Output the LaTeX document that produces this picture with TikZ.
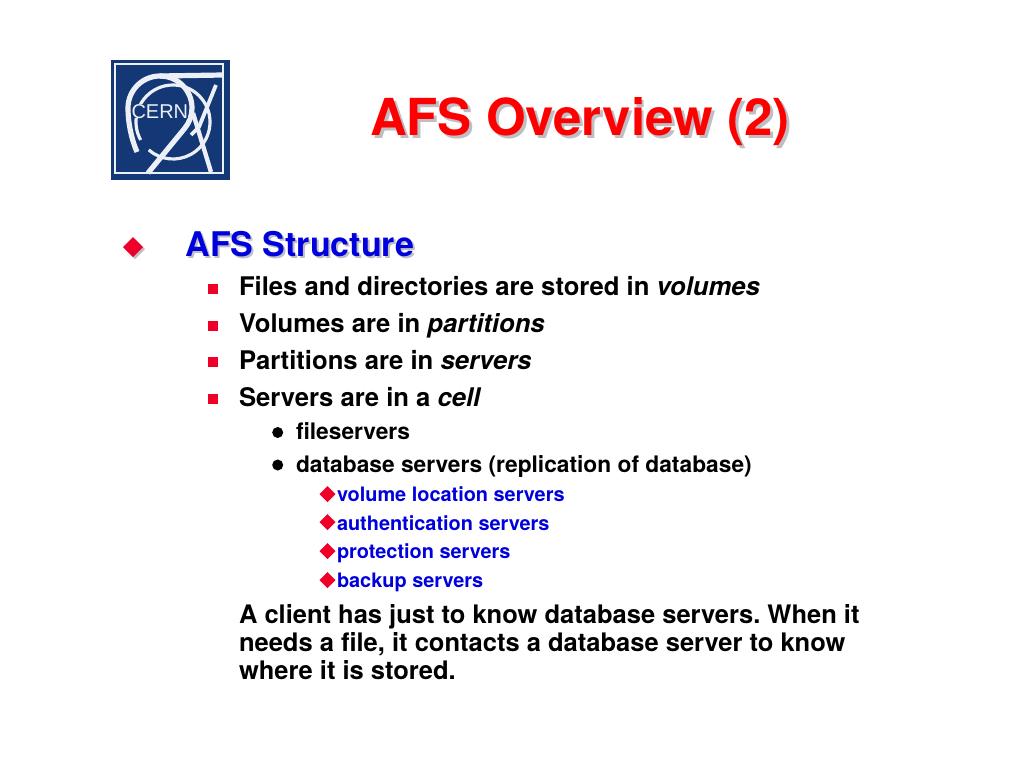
\documentclass[tikz,border=0pt]{standalone}
\usepackage{fontspec}
\setmainfont{TeX Gyre Heros}
\newfontfamily\logofont{Liberation Sans}
\definecolor{slidered}{RGB}{240,0,40}
\definecolor{titlered}{RGB}{255,0,0}
\definecolor{slideblue}{RGB}{0,0,220}
\definecolor{shadowgray}{RGB}{190,190,196}
\definecolor{logoblue}{RGB}{20,55,118}
\definecolor{logoline}{RGB}{236,240,246}
\newcommand{\shadowed}[3]{\leavevmode\rlap{\kern#1\raisebox{-#1}{\textcolor{shadowgray}{#3}}}\textcolor{#2}{#3}}
\frenchspacing
\tikzset{
  x=1pt,y=-1pt,
  every node/.style={inner sep=0pt,outer sep=0pt,anchor=base west},
  titletext/.style={font=\fontsize{51}{56}\selectfont\bfseries},
  headtext/.style={font=\fontsize{34}{38}\selectfont\bfseries},
  leveltwo/.style={font=\fontsize{25.65}{28}\selectfont\bfseries},
  levelthree/.style={font=\fontsize{22.75}{26}\selectfont\bfseries},
  levelfour/.style={font=\fontsize{19.9}{24}\selectfont\bfseries,text=slideblue},
  closing/.style={font=\fontsize{25.5}{28}\selectfont\bfseries},
  logostroke/.style={draw=logoline,line width=5.2pt,line cap=butt,line join=round},
  logothin/.style={draw=logoline,line width=3.2pt,line cap=butt},
  squarebullet/.style={fill=slidered},
  roundbullet/.style={fill=black},
  diamondbullet/.style={fill=slidered},
}
\newcommand{\squarebul}[1]{\fill[squarebullet] (208,#1-5) rectangle +(10,10);}
\newcommand{\roundbul}[1]{\fill[roundbullet] (277.7,#1) circle (5.5);}
\newcommand{\diamondbul}[1]{\fill[diamondbullet] (319.5,#1) -- +(8,-8) -- +(16,0) -- +(8,8) -- cycle;}
\begin{document}
\begin{tikzpicture}
\useasboundingbox (0,0) rectangle (1024,768);
\fill[white] (0,0) rectangle (1024,768);
% logo
\fill[logoblue] (111,60) rectangle (230,180);
\draw[logoline,line width=1.1pt] (115,64) rectangle (223,173);
% inner ring
\draw[logothin] (173,122) ++(151:37) arc[start angle=151,end angle=491,radius=37];
% big circle with its bar and tail
\draw[logostroke] (223,75) -- (160,76) arc[start angle=270,end angle=180,radius=32] .. controls (128,122) and (131,138) .. (137,152);
\draw[logostroke] (160,76) arc[start angle=270,end angle=400,radius=32] -- (148,173);
% the A
\draw[logostroke,line width=3.8pt] (216,85) -- (199,127) -- (191,135);
\draw[logostroke,line width=4.4pt] (193,113) -- (211,172);
\node[font=\logofont\fontsize{20}{20}\selectfont,text=logoline,fill=logoblue] (logotext) at (131.5,118) {CERN};
% title
\node[titletext] (title) at (370,135) {\shadowed{3pt}{titlered}{AFS Overview (2)}};
% head
\fill[shadowgray] (125,249) -- +(10,-10) -- +(20,0) -- +(10,10) -- cycle;
\fill[slidered] (123,247) -- +(10,-10) -- +(20,0) -- +(10,10) -- cycle;
\node[headtext] (head) at (185.5,256) {\shadowed{2pt}{slideblue}{AFS Structure}};
% level two
\squarebul{289}
\squarebul{326}
\squarebul{362}
\squarebul{399}
\node[leveltwo] (files) at (239,295) {Files and directories are stored in \textit{volumes}};
\node[leveltwo] (volumes) at (239,332) {Volumes are in \textit{partitions}};
\node[leveltwo] (parts) at (239,369) {Partitions are in \textit{servers}};
\node[leveltwo] (servers) at (239,406) {Servers are in a \textit{cell}};
% level three
\roundbul{432.5}
\roundbul{465}
\node[levelthree] (fileservers) at (296,439) {fileservers};
\node[levelthree] (database) at (296,472) {database servers (replication of database)};
% level four
\diamondbul{494}
\diamondbul{522}
\diamondbul{551}
\diamondbul{580}
\node[levelfour] (volloc) at (337,501) {volume location servers};
\node[levelfour] (auth) at (337,530) {authentication servers};
\node[levelfour] (prot) at (337,558) {protection servers};
\node[levelfour] (backup) at (337,587) {backup servers};
% closing
\node[closing] (lineone) at (239,623) {A client has just to know database servers. When it};
\node[closing] (linetwo) at (239,651) {needs a file, it contacts a database server to know};
\node[closing] (linethree) at (239,679) {where it is stored.};
\end{tikzpicture}
\end{document}
